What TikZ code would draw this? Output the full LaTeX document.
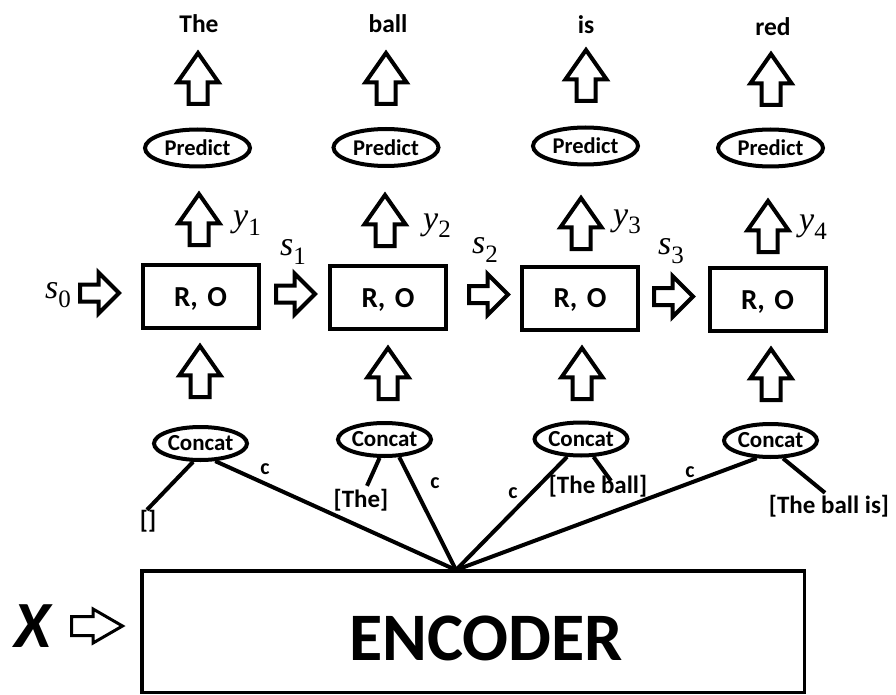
\documentclass[tikz,border=0pt]{standalone}
\usepackage{fontspec}
\setmainfont{Carlito}
\newfontfamily\symserif{Liberation Serif}
\usetikzlibrary{shapes.geometric,shapes.arrows}

\tikzset{
  fatup/.style={single arrow, draw, line width=4pt, shape border rotate=90,
    inner sep=7.5pt, outer sep=0pt, minimum height=51pt, minimum width=37pt,
    single arrow head extend=11pt, single arrow tip angle=70, anchor=tail},
  fatright/.style={single arrow, draw, line width=4pt, inner sep=6.5pt,
    outer sep=0pt, minimum height=39pt, minimum width=37pt,
    single arrow head extend=12pt, single arrow tip angle=90, anchor=tail},
  robox/.style={draw, line width=4pt, minimum width=116pt, minimum height=63pt,
    inner sep=0pt, text depth=0pt, font=\fontsize{29}{29}\selectfont\bfseries},
  predict/.style={ellipse, draw, line width=4pt, minimum width=105pt,
    minimum height=37pt, inner sep=0pt, font=\fontsize{22.5}{22.5}\selectfont\bfseries},
  concat/.style={ellipse, draw, line width=4pt, minimum width=93pt,
    minimum height=33pt, inner sep=0pt, font=\fontsize{23}{23}\selectfont\bfseries},
  word/.style={anchor=base, inner sep=0pt, font=\fontsize{25.5}{25.5}\selectfont\bfseries},
  seqlabel/.style={inner sep=0pt, font=\fontsize{25}{25}\selectfont\bfseries},
  clabel/.style={inner sep=0pt, font=\fontsize{22}{22}\selectfont\bfseries},
  statelabel/.style={anchor=base west, inner sep=0pt},
  feed/.style={line width=4pt},
}
\newcommand\symsub[2]{{\symserif\fontsize{34}{34}\selectfont\itshape #1}\raisebox{-9pt}{\symserif\fontsize{25}{25}\selectfont #2}}

\begin{document}
\begin{tikzpicture}[x=1pt,y=-1pt]
\useasboundingbox (0,0) rectangle (896,695);

% predicted words
\node[word] (w1) at (199,33) {The};
\node[word] (w2) at (388,32.5) {ball};
\node[word] (w3) at (586,33.5) {is};
\node[word] (w4) at (773,36) {red};

% prediction ellipses
\node[predict] (p1) at (197.5,148) {Predict};
\node[predict] (p2) at (386,147.5) {Predict};
\node[predict] (p3) at (585.5,146) {Predict};
\node[predict] (p4) at (770.5,148) {Predict};

% predict -> word
\node[fatup] (pa1) at (198,104) {};
\node[fatup] (pa2) at (386,104) {};
\node[fatup] (pa3) at (586,101) {};
\node[fatup] (pa4) at (771,105) {};

% decoder cells
\node[robox] (r1) at (200.5,296.5) {R,\hspace{3pt} O};
\node[robox] (r2) at (388,297.5) {R,\hspace{3pt} O};
\node[robox] (r3) at (580,298) {R,\hspace{3pt} O};
\node[robox] (r4) at (767.5,299.5) {R,\hspace{3pt} O};

% cell -> predict (outputs y_t)
\node[fatup] (oa1) at (199,245) {};
\node[fatup] (oa2) at (385,246) {};
\node[fatup] (oa3) at (581,249) {};
\node[fatup] (oa4) at (768,252) {};
\node[statelabel] (y1) at (233,226) {\symsub{y}{1}};
\node[statelabel] (y2) at (423,229) {\symsub{y}{2}};
\node[statelabel] (y3) at (613,225) {\symsub{y}{3}};
\node[statelabel] (y4) at (799,230) {\symsub{y}{4}};

% state passing
\node[fatright] (sa0) at (80,293) {};
\node[fatright] (sa1) at (276,294) {};
\node[fatright] (sa2) at (469,294.5) {};
\node[fatright] (sa3) at (654,296.5) {};
\node[statelabel] (s0) at (45,298) {\symsub{s}{0}};
\node[statelabel] (s1) at (280,255) {\symsub{s}{1}};
\node[statelabel] (s2) at (472,253) {\symsub{s}{2}};
\node[statelabel] (s3) at (658,254) {\symsub{s}{3}};

% concat -> cell
\node[fatup] (ca1) at (200,397) {};
\node[fatup] (ca2) at (388,399) {};
\node[fatup] (ca3) at (582,399) {};
\node[fatup] (ca4) at (771,400) {};

% concatenation nodes
\node[concat] (c1) at (200.5,443.5) {Concat};
\node[concat] (c2) at (384.5,439.5) {Concat};
\node[concat] (c3) at (581,439) {Concat};
\node[concat] (c4) at (770.5,440.5) {Concat};

% previous outputs
\node[seqlabel] (l1) at (148,521) {[]};
\node[seqlabel] (l2) at (361,500) {[The]};
\node[seqlabel] (l3) at (598,486) {[The ball]};
\node[seqlabel] (l4) at (829,506) {[The ball is]};
\draw[feed] (c1.-112) -- ([xshift=-1pt]l1.north);
\draw[feed] (c2.-105) -- ([xshift=6pt,yshift=3pt]l2.north);
\draw[feed] (c3.-55) -- ([xshift=13pt,yshift=-6pt]l3.north);
\draw[feed] (c4.-55) -- ([xshift=-4pt,yshift=2pt]l4.north);

% encoder
\node[draw, line width=3.5pt, minimum width=662.5pt, minimum height=121.5pt,
  inner sep=0pt] (enc) at (473,631.5) {};
\node[inner sep=0pt, font=\fontsize{68}{68}\selectfont\bfseries] (enctext) at (486,638) {ENCODER};
\node[inner sep=0pt, font=\fontsize{66}{66}\selectfont\bfseries\itshape] (x) at (33,626) {X};
\node[fatright, line width=3pt, inner sep=8pt, minimum height=51pt,
  minimum width=31pt, single arrow head extend=7.5pt, single arrow tip angle=60] (xa) at (71.5,626) {};

% context vector to each concat
\coordinate (fan) at (456,570);
\draw[feed] (c1.-50) -- (fan);
\draw[feed] (c2.-50) -- (fan);
\draw[feed] (c3.-128) -- (fan);
\draw[feed] (c4.-128) -- (fan);
\node[clabel] (k1) at (265,469) {c};
\node[clabel] (k2) at (435,483) {c};
\node[clabel] (k3) at (513,493) {c};
\node[clabel] (k4) at (690,472) {c};
\end{tikzpicture}
\end{document}
